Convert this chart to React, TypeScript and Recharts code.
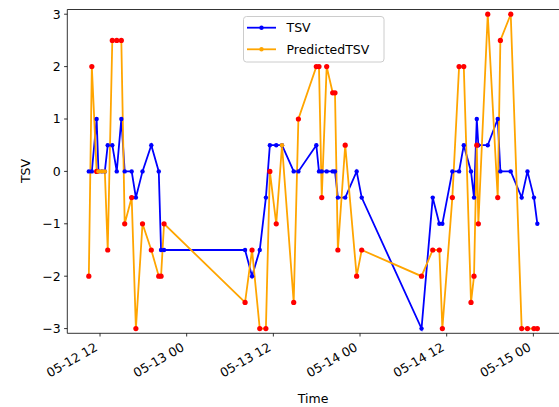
import React from 'react';
import { ComposedChart, Line, XAxis, YAxis, Legend, ReferenceLine } from 'recharts';

// Timestamps (MM-DD HH:MM)
const times = [
  '05-12 10:27', '05-12 10:52', '05-12 11:32', '05-12 11:47', '05-12 12:15', '05-12 12:40',
  '05-12 13:04', '05-12 13:42', '05-12 14:19', '05-12 14:57', '05-12 15:25', '05-12 16:23',
  '05-12 16:58', '05-12 17:53', '05-12 19:06', '05-12 20:08', '05-12 20:27', '05-12 20:52',
  '05-13 08:05', '05-13 09:03', '05-13 10:07', '05-13 10:58', '05-13 11:31', '05-13 12:24',
  '05-13 13:12', '05-13 14:49', '05-13 15:28', '05-13 17:57', '05-13 18:19', '05-13 18:42',
  '05-13 19:23', '05-13 20:13', '05-13 20:32', '05-13 20:56', '05-13 21:57', '05-13 23:32',
  '05-14 00:14', '05-14 08:31', '05-14 10:04', '05-14 10:59', '05-14 11:24', '05-14 12:47',
  '05-14 13:43', '05-14 14:22', '05-14 15:22', '05-14 15:47', '05-14 16:10', '05-14 16:23',
  '05-14 17:41', '05-14 19:04', '05-14 19:26', '05-14 20:52', '05-14 22:23', '05-14 23:11',
  '05-15 00:05', '05-15 00:33',
];

const tsv = [
  0, 0, 1, 0, 0, 0, 0.5, 0.5, 0, 1, 0, 0, -0.5, 0, 0.5, 0, -1.5, -1.5,
  -1.5, -2, -1.5, -0.5, 0.5, 0.5, 0.5, 0, 0, 0.5, 0, 0, 0, 0, 0, -0.5, -0.5, 0,
  -0.5, -3, -0.5, -1, -1, 0, 0, 0.5, 0, -0.5, 1, 0.5, 0.5, 1, 0, 0, -0.5, 0, -0.5, -1,
];

const predicted = [
  -2, 2, 0, 0, 0, 0, -1.5, 2.5, 2.5, 2.5, -1, -0.5, -3, -1, -1.5, -2, -2, -1,
  -2.5, -1.5, -3, -3, 0, -1, 0.5, -2.5, 1, 2, 2, -0.5, 2, 1.5, 1.5, -1.5, 0.5, -2,
  -1.5, -2, -1.5, -1.5, -3, -0.5, 2, 2, -2.5, -2, 0.5, -1, 3, -0.5, 2.5, 3, -3, -3, -3, -3,
];

const xTickHours = [12, 24, 36, 48, 60, 72];
const xTickLabels = ['05-12 12', '05-13 00', '05-13 12', '05-14 00', '05-14 12', '05-15 00'];
const yTicks = [-3, -2, -1, 0, 1, 2, 3];

// hours since 05-12 00:00
const toHours = (s: string) => {
  const [md, hm] = s.split(' ');
  const day = parseInt(md.split('-')[1], 10);
  const [h, m] = hm.split(':').map((v) => parseInt(v, 10));
  return (day - 12) * 24 + h + m / 60;
};

const data = times.map((t, i) => ({ h: toHours(t), tsv: tsv[i], pred: predicted[i] }));

const FONT = 'DejaVu Sans';

const XTick = (props: any) => {
  const { x, y, payload } = props;
  const idx = xTickHours.indexOf(payload.value);
  const ax = x - 1.5;
  const ay = y + 13.2;
  return (
    <text x={ax} y={ay} textAnchor="end" transform={`rotate(-30 ${ax} ${ay})`} fontSize={12.5} fill="#000" fontFamily={FONT}>
      {idx >= 0 ? xTickLabels[idx] : ''}
    </text>
  );
};

const PredDot = (props: any) => {
  const { cx, cy, payload, index } = props;
  if (cx == null || cy == null) return <g key={index} />;
  const mis = payload.pred !== payload.tsv;
  return <circle key={index} cx={cx} cy={cy} r={mis ? 2.6 : 2.2} fill={mis ? '#ff0000' : '#ffa500'} stroke="none" />;
};

const YLabel = () => (
  <text x={30} y={171} transform="rotate(-90 30 171)" textAnchor="middle" fontSize={12.5} fill="#000" fontFamily={FONT}>
    TSV
  </text>
);

const LegendBox = () => (
  <svg width={142} height={47} style={{ display: 'block' }}>
    <rect x={0.5} y={0.5} width={140.5} height={45.5} rx={3} ry={3} fill="rgba(255,255,255,0.8)" stroke="#cccccc" strokeWidth={1} />
    <line x1={4} x2={33} y1={11.7} y2={11.7} stroke="#0000ff" strokeWidth={1.8} />
    <circle cx={18.5} cy={11.7} r={2.2} fill="#0000ff" />
    <text x={43.5} y={11.7} dy="0.36em" fontSize={12.5} fill="#000" fontFamily={FONT}>TSV</text>
    <line x1={4} x2={33} y1={33.3} y2={33.3} stroke="#ffa500" strokeWidth={1.8} />
    <circle cx={18.5} cy={33.3} r={2.2} fill="#ffa500" />
    <text x={43.5} y={33.3} dy="0.36em" fontSize={12.5} fill="#000" fontFamily={FONT}>PredictedTSV</text>
  </svg>
);

export default function App() {
  return (
    <div style={{ position: 'fixed', left: 0, top: 0, background: '#fff' }}>
      <ComposedChart
        width={559}
        height={407}
        data={data}
        margin={{ top: 9.5, right: 0, bottom: 0, left: 0 }}
        style={{ fontFamily: FONT }}
      >
        <XAxis
          dataKey="h"
          type="number"
          domain={[7.47, 75.55]}
          allowDataOverflow
          ticks={xTickHours}
          tick={<XTick />}
          tickSize={3.2}
          tickMargin={0}
          height={73.7}
          axisLine={{ stroke: '#000', strokeWidth: 0.8 }}
          tickLine={{ stroke: '#000', strokeWidth: 0.8 }}
          interval={0}
          label={{ value: 'Time', position: 'insideBottom', offset: 4.5, fontSize: 12.5, fill: '#000', fontFamily: FONT }}
        />
        <YAxis
          type="number"
          domain={[-3.09, 3.09]}
          allowDataOverflow
          ticks={yTicks}
          width={67.3}
          tickSize={3.2}
          tickMargin={3.3}
          interval={0}
          tickFormatter={(v: number) => (v < 0 ? '\u2212' + Math.abs(v) : String(v))}
          tick={{ fontSize: 12.5, fill: '#000', fontFamily: FONT }}
          axisLine={{ stroke: '#000', strokeWidth: 0.8 }}
          tickLine={{ stroke: '#000', strokeWidth: 0.8 }}
          label={<YLabel />}
        />
        <ReferenceLine y={3.09} stroke="#000" strokeWidth={0.8} ifOverflow="extendDomain" />
        <Line
          dataKey="tsv"
          name="TSV"
          stroke="#0000ff"
          strokeWidth={1.8}
          dot={{ r: 2.2, fill: '#0000ff', stroke: 'none' }}
          activeDot={false}
          isAnimationActive={false}
          type="linear"
        />
        <Line
          dataKey="pred"
          name="PredictedTSV"
          stroke="#ffa500"
          strokeWidth={1.8}
          dot={<PredDot />}
          activeDot={false}
          isAnimationActive={false}
          type="linear"
        />
        <Legend
          layout="vertical"
          align="center"
          verticalAlign="middle"
          content={<LegendBox />}
          wrapperStyle={{ position: 'absolute', left: 243, top: 16, width: 142, height: 47, margin: 0 }}
        />
      </ComposedChart>
    </div>
  );
}
